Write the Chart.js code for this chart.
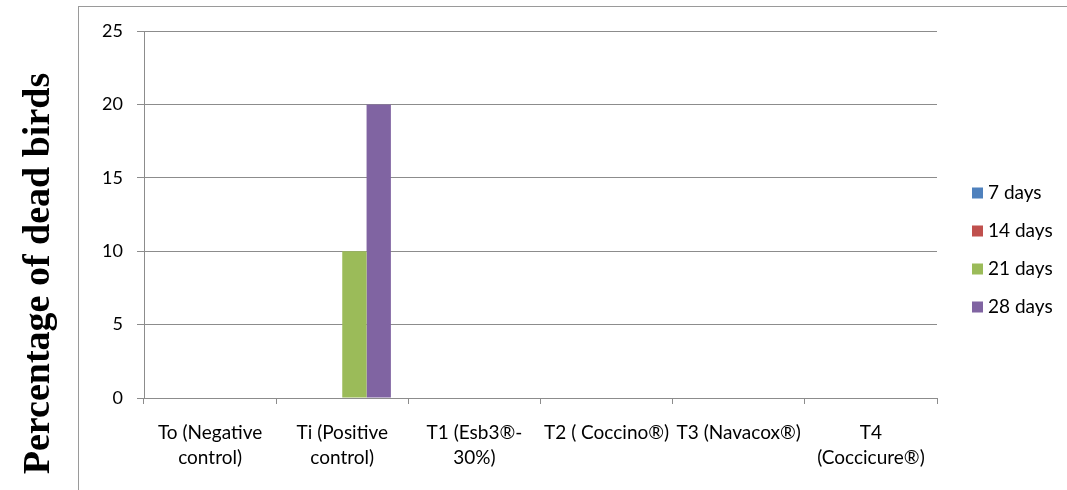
<!DOCTYPE html>
<html><head><meta charset="utf-8">
<script src="https://cdn.jsdelivr.net/npm/chart.js@4/dist/chart.umd.min.js"></script>
<style>
html,body{margin:0;padding:0;background:#fff;}
#wrap{position:relative;width:1067px;height:490px;overflow:hidden;}
#frame{position:absolute;left:78px;top:6px;width:2000px;height:2000px;border:1.5px solid #9a9a9a;box-sizing:border-box;}
canvas{position:absolute;left:0;top:0;}
</style></head><body>
<div id="wrap"><div id="frame"></div><canvas id="c" width="1067" height="490"></canvas></div>
<script>
const categories = [["To (Negative","control)"],["Ti (Positive","control)"],["T1 (Esb3®-","30%)"],["T2 ( Coccino®)"],["T3 (Navacox®)"],["T4","(Coccicure®)"]];
const seriesNames = ["7 days","14 days","21 days","28 days"];
const days7  = [0,0,0,0,0,0];
const days14 = [0,0,0,0,0,0];
const days21 = [0,10,0,0,0,0];
const days28 = [0,20,0,0,0,0];
const seriesColors = ["#4F81BD","#C0504D","#9BBB59","#8064A2"];
const yTicks = [0,5,10,15,20,25];
const yTitle = "Percentage of dead birds";

const gridColor = "#8c8c8c";
const tickFont = {family:"Lato", size:18, lineHeight:1.2};
const catFont = {family:"Lato", size:19, lineHeight:1.3};

const titlePlugin = {
  id:'yTitle',
  afterDraw(chart){
    const ctx = chart.ctx;
    ctx.save();
    ctx.translate(49, 273.5);
    ctx.rotate(-Math.PI/2);
    ctx.textAlign='center';
    ctx.textBaseline='alphabetic';
    ctx.fillStyle='#000';
    ctx.font='bold 38px "Liberation Serif"';
    ctx.fillText(yTitle,0,0);
    ctx.restore();
  }
};
const legendPlugin = {
  id:'customLegend',
  afterDraw(chart){
    const ctx = chart.ctx;
    ctx.save();
    ctx.font='19px Lato';
    ctx.textBaseline='middle';
    ctx.textAlign='left';
    chart.data.datasets.forEach((ds,i)=>{
      const y = 193 + i*38;
      ctx.fillStyle = ds.backgroundColor;
      ctx.fillRect(972, y-5.5, 11, 11);
      ctx.fillStyle='#000';
      ctx.fillText(ds.label, 988, y);
    });
    ctx.restore();
  }
};

const seriesData = [days7, days14, days21, days28];
new Chart(document.getElementById('c'), {
  type:'bar',
  data:{
    labels: categories,
    datasets: seriesNames.map((n,i)=>({label:n, data:seriesData[i], backgroundColor:seriesColors[i], borderWidth:0, categoryPercentage:0.736, barPercentage:1}))
  },
  options:{
    responsive:false, animation:false, devicePixelRatio:1,
    layout:{padding:{left:0,top:31,right:130,bottom:0}},
    plugins:{legend:{display:false}, tooltip:{enabled:false}},
    scales:{
      x:{
        offset:true,
        grid:{drawOnChartArea:false, drawTicks:true, tickLength:6, color:gridColor, offset:true},
        border:{color:gridColor, width:1},
        ticks:{font:catFont, color:'#000', padding:16.6, maxRotation:0, autoSkip:false},
        afterFit(s){ s.height = 92; }
      },
      y:{
        min:0, max:25,
        afterBuildTicks(s){ s.ticks = yTicks.map(v=>({value:v})); },
        grid:{color:gridColor, tickLength:7, drawTicks:true},
        border:{color:gridColor, width:1},
        ticks:{font:tickFont, color:'#000', padding:14},
        afterFit(s){ s.width = 144; }
      }
    }
  },
  plugins:[titlePlugin, legendPlugin]
});
</script>
</body></html>
